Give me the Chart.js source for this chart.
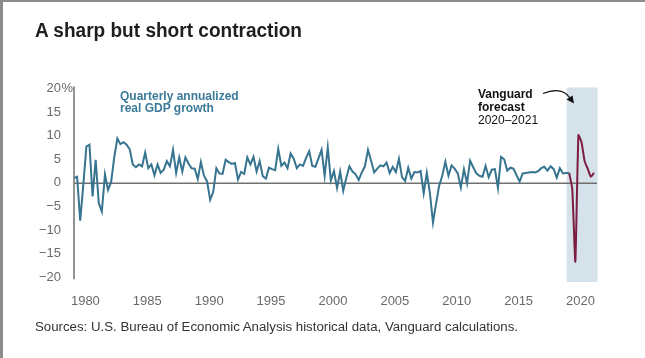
<!DOCTYPE html>
<html>
<head>
<meta charset="utf-8">
<script src="https://cdn.jsdelivr.net/npm/chart.js@4.4.1/dist/chart.umd.min.js"></script>
<style>
  html,body{margin:0;padding:0;background:#fff;}
  #wrap{position:relative;width:645px;height:358px;overflow:hidden;background:#fff;}
  canvas{position:absolute;left:0;top:0;}
  .t{position:absolute;white-space:nowrap;transform-origin:left center;font-family:"Liberation Sans",Arial,sans-serif;}
  #title{left:35px;top:20px;font-size:20px;line-height:20px;font-weight:700;color:#1e1e1e;}
  #src{left:35px;top:321px;font-size:12.5px;line-height:13px;color:#333;}
  #ann1{left:120px;top:89.5px;font-size:12px;line-height:12.5px;font-weight:700;color:#3b7a99;}
  #ann2{left:478px;top:87.5px;font-size:12px;line-height:13.3px;color:#111;}
  #bt{position:absolute;left:0;top:0;width:645px;height:2px;background:#8c8c8c;}
  #bl{position:absolute;left:0;top:0;width:3px;height:358px;background:#8c8c8c;}
</style>
</head>
<body>
<div id="wrap">
  <canvas id="c" width="645" height="358"></canvas>
  <div id="title" class="t">A sharp but short contraction</div>
  <div id="ann1" class="t">Quarterly annualized<br>real GDP growth</div>
  <div id="ann2" class="t"><b>Vanguard<br>forecast</b><br>2020–2021</div>
  <div id="src" class="t">Sources: U.S. Bureau of Economic Analysis historical data, Vanguard calculations.</div>
  <div id="bt"></div><div id="bl"></div>
</div>
<script>
// ---- DATA ----
// Quarterly annualized real GDP growth (%), 1979 Q4 .. 2019 Q4
const historyStart = 1979.75;   // 1979 Q4
const gdpHistorical = [
  1.0,
  1.3, -8.0, -0.5, 7.7,   // 1980
  8.1, -2.9, 4.9, -4.3,   // 1981
  -6.1, 1.8, -1.5, 0.2,   // 1982
  5.4, 9.4, 8.2, 8.6,     // 1983
  8.1, 7.1, 3.9, 3.3,     // 1984
  3.9, 3.5, 6.4, 3.1,     // 1985
  3.9, 1.6, 3.9, 2.1,     // 1986
  2.8, 4.6, 3.5, 7.0,     // 1987
  2.1, 5.4, 2.4, 5.4,     // 1988
  4.1, 3.1, 3.0, 0.8,     // 1989
  4.4, 1.5, 0.3, -3.6,    // 1990
  -1.9, 3.1, 2.0, 1.9,    // 1991
  4.9, 4.4, 4.0, 4.2,     // 1992
  0.7, 2.3, 1.9, 5.4,     // 1993
  3.9, 5.5, 2.4, 4.6,     // 1994
  1.4, 0.9, 3.2, 2.9,     // 1995
  2.7, 7.2, 3.6, 4.3,     // 1996
  3.1, 6.2, 5.1, 3.1,     // 1997
  3.9, 3.6, 5.3, 6.7,     // 1998
  3.6, 3.4, 5.2, 7.0,     // 1999
  1.5, 7.5, 0.5, 2.5,     // 2000
  -1.1, 2.4, -1.7, 1.1,   // 2001
  3.5, 2.4, 1.8, 0.6,     // 2002
  2.2, 3.5, 7.0, 4.7,     // 2003
  2.2, 3.0, 3.7, 3.5,     // 2004
  4.3, 2.1, 3.4, 2.3,     // 2005
  5.1, 1.2, 0.4, 3.2,     // 2006
  0.9, 2.3, 2.2, 2.5,     // 2007
  -2.2, 2.1, -2.1, -8.4,  // 2008
  -4.4, -0.6, 1.5, 4.5,   // 2009
  1.5, 3.7, 3.0, 2.0,     // 2010
  -1.0, 2.9, -0.1, 4.7,   // 2011
  3.3, 2.0, 1.5, 1.3,     // 2012
  3.6, 1.2, 2.8, 2.9,     // 2013
  -1.1, 5.5, 5.0, 2.6,    // 2014
  3.2, 3.0, 1.6, 0.3,     // 2015
  2.0, 2.1, 2.2, 2.3,     // 2016
  2.2, 2.5, 3.1, 3.4,     // 2017
  2.6, 3.5, 2.9, 1.1,     // 2018
  3.1, 2.0, 2.1, 2.1      // 2019
];
// Vanguard forecast, 2019 Q4 .. 2021 Q4
const forecastStart = 2019.75;
const gdpForecast = [2.1, -1.2, -16.7, 10.1, 8.6, 4.6, 3.0, 1.3, 2.1];
const forecastSpan = [2019.55, 2022.05];
const xTickYears = [1980, 1985, 1990, 1995, 2000, 2005, 2010, 2015, 2020];
const xLabelOffset = 0.67;
const yTicks = [-20, -15, -10, -5, 0, 5, 10, 15, 20];

// ---- STYLE ----
const BLUE = '#36748f', RED = '#7b1c40', SHADE = '#d6e2ea', AXIS = '#707070', TICK = '#6a6a6a';
const FONT = '"Liberation Sans", Arial, sans-serif';

const histPts = gdpHistorical.map((v, i) => ({x: historyStart + i / 4, y: v}));
const fcPts = gdpForecast.map((v, i) => ({x: forecastStart + i / 4, y: v}));

const decor = {
  id: 'decor',
  beforeDatasetsDraw(chart) {
    const {ctx, chartArea: a, scales: {x, y}} = chart;
    ctx.save();
    // forecast shading
    const x0 = x.getPixelForValue(forecastSpan[0]), x1 = x.getPixelForValue(forecastSpan[1]);
    const yt = y.getPixelForValue(20.2), yb = y.getPixelForValue(-21);
    ctx.fillStyle = SHADE;
    ctx.fillRect(x0, yt, x1 - x0, yb - yt);
    // zero line
    ctx.strokeStyle = AXIS; ctx.lineWidth = 1.5;
    ctx.beginPath();
    const y0 = Math.round(y.getPixelForValue(0)) + 0.25;
    ctx.moveTo(a.left, y0); ctx.lineTo(a.right, y0); ctx.stroke();
    // y axis line
    ctx.beginPath();
    ctx.moveTo(a.left, y.getPixelForValue(20.4));
    ctx.lineTo(a.left, y.getPixelForValue(-20.4));
    ctx.stroke();
    // % sign after top tick
    ctx.fillStyle = TICK; ctx.font = '13px ' + FONT;
    ctx.textAlign = 'left'; ctx.textBaseline = 'middle';
    ctx.fillText('%', a.left - 13 + 0.5, y.getPixelForValue(20));
    ctx.restore();
  },
  afterDraw(chart) {
    const {ctx} = chart;
    ctx.save();
    // annotation arrow
    ctx.strokeStyle = '#111'; ctx.lineWidth = 1.2;
    ctx.beginPath();
    ctx.moveTo(543, 93.5);
    ctx.quadraticCurveTo(562, 86, 570, 98);
    ctx.stroke();
    ctx.fillStyle = '#111';
    ctx.beginPath();
    ctx.moveTo(574, 103.5);
    ctx.lineTo(566.5, 99.5);
    ctx.lineTo(572.5, 95.5);
    ctx.closePath();
    ctx.fill();
    ctx.restore();
  }
};

new Chart(document.getElementById('c'), {
  type: 'line',
  data: {
    datasets: [
      {data: histPts, borderColor: BLUE, borderWidth: 2, pointRadius: 0, tension: 0, fill: false},
      {data: fcPts, borderColor: RED, borderWidth: 2, pointRadius: 0, tension: 0.15, fill: false}
    ]
  },
  options: {
    responsive: false,
    animation: false,
    events: [],
    layout: {padding: {left: 0, right: 48, top: 87, bottom: 36}},
    plugins: {legend: {display: false}, tooltip: {enabled: false}},
    scales: {
      x: {
        type: 'linear', min: historyStart, max: 2022.0,
        grid: {display: false, drawTicks: false}, border: {display: false},
        afterBuildTicks: s => { s.ticks = xTickYears.map(v => ({value: v + xLabelOffset})); },
        afterFit: s => { s.height = 40; },
        ticks: {
          autoSkip: false, maxRotation: 0, padding: 12, color: TICK,
          font: {family: FONT, size: 13},
          callback: v => String(Math.round(v - xLabelOffset))
        }
      },
      y: {
        type: 'linear', min: -21, max: 20.3,
        grid: {display: false, drawTicks: false}, border: {display: false},
        afterBuildTicks: s => { s.ticks = yTicks.map(v => ({value: v})); },
        afterFit: s => { s.width = 74; },
        ticks: {
          padding: 13, color: TICK, font: {family: FONT, size: 13},
          callback: v => v < 0 ? '\u2212' + Math.abs(v) : String(v)
        }
      }
    }
  },
  plugins: [decor]
});

function fit(id, w) {
  const el = document.getElementById(id);
  const r = el.getBoundingClientRect().width;
  el.style.transform = 'scaleX(' + (w / r) + ')';
}
fit('title', 267);
fit('src', 483);
</script>
</body>
</html>
